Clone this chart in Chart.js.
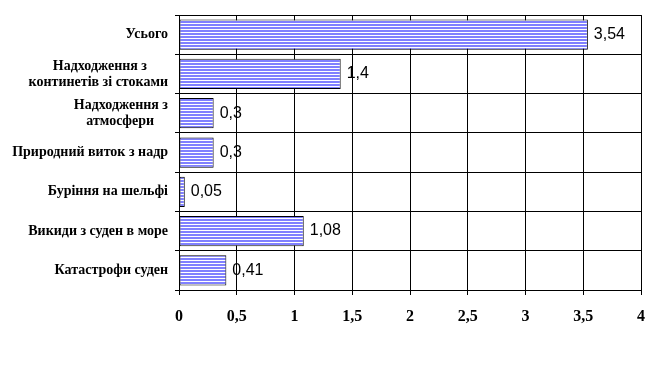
<!DOCTYPE html>
<html>
<head>
<meta charset="utf-8">
<script src="https://cdn.jsdelivr.net/npm/chart.js@4"></script>
<style>
  html, body { margin: 0; padding: 0; background: #fff; }
  #wrap { width: 668px; height: 371px; }
</style>
</head>
<body>
<div id="wrap"><canvas id="c" width="668" height="371"></canvas></div>
<script>
const categories = [
  ["Усього"],
  ["Надходження з\u00a0\u00a0\u00a0\u00a0\u00a0\u00a0", "континетів зі стоками"],
  ["Надходження з", "атмосфери\u00a0\u00a0\u00a0\u00a0"],
  ["Природний виток з надр"],
  ["Буріння на шельфі"],
  ["Викиди з суден в море"],
  ["Катастрофи суден"]
];
const values = [3.54, 1.4, 0.3, 0.3, 0.05, 1.08, 0.41];
const valueLabels = ["3,54", "1,4", "0,3", "0,3", "0,05", "1,08", "0,41"];
const xTicks = ["0", "0,5", "1", "1,5", "2", "2,5", "3", "3,5", "4"];

// striped fill (blue with thin white horizontal lines)
const pc = document.createElement('canvas');
pc.width = 4; pc.height = 3;
const pctx = pc.getContext('2d');
pctx.fillStyle = '#8080ff';
pctx.fillRect(0, 0, 4, 2);
pctx.fillStyle = '#ffffff';
pctx.fillRect(0, 2, 4, 1);
const stripe = pctx.createPattern(pc, 'repeat');

const valueLabelPlugin = {
  id: 'valueLabels',
  afterDatasetsDraw(chart) {
    const ctx = chart.ctx;
    const meta = chart.getDatasetMeta(0);
    ctx.save();
    ctx.font = '16px "Liberation Sans", Arial, sans-serif';
    ctx.fillStyle = '#000';
    ctx.textAlign = 'left';
    ctx.textBaseline = 'middle';
    meta.data.forEach((el, i) => {
      ctx.fillText(valueLabels[i], el.x + 6, el.y);
    });
    ctx.restore();
  }
};

new Chart(document.getElementById('c'), {
  type: 'bar',
  data: {
    labels: categories,
    datasets: [{
      data: values,
      backgroundColor: stripe,
      borderColor: '#000',
      borderWidth: 1,
      borderSkipped: false,
      barPercentage: 0.77,
      categoryPercentage: 1
    }]
  },
  options: {
    indexAxis: 'y',
    responsive: false,
    animation: false,
    devicePixelRatio: 1,
    layout: { padding: { top: 14, right: 27, left: 0, bottom: 0 } },
    plugins: { legend: { display: false }, tooltip: { enabled: false } },
    scales: {
      x: {
        min: 0, max: 4,
        ticks: {
          stepSize: 0.5,
          color: '#000',
          font: { family: '"Liberation Serif", "Times New Roman", serif', size: 16, weight: 'bold' },
          padding: 12,
          maxRotation: 0,
          callback: (v, i) => xTicks[i]
        },
        grid: { color: '#000', lineWidth: 1, tickLength: 5, drawTicks: true },
        border: { color: '#000', width: 1 },
        afterFit(s) { s.height = 81; }
      },
      y: {
        ticks: {
          color: '#000',
          font: { family: '"Liberation Serif", "Times New Roman", serif', size: 14, weight: 'bold', lineHeight: 1.15 },
          padding: 7,
          autoSkip: false
        },
        grid: { color: '#000', lineWidth: 1, tickLength: 4, offset: true },
        border: { color: '#000', width: 1 },
        afterFit(s) { s.width = 179; }
      }
    }
  },
  plugins: [valueLabelPlugin]
});
</script>
</body>
</html>
